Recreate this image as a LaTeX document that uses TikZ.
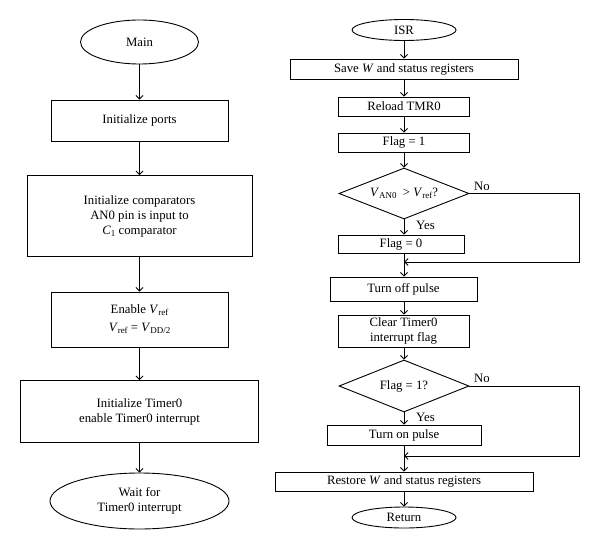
\documentclass[tikz,border=0pt]{standalone}
\usepackage{fontspec}
\setmainfont{Liberation Serif}
\usetikzlibrary{arrows.meta,shapes.geometric}
\newcommand{\lsub}[1]{\raisebox{-0.35ex}{\fontsize{9}{9}\selectfont #1}}
\tikzset{
  box/.style={draw, line width=0.9bp, rectangle, inner sep=0pt, align=center},
  oval/.style={draw, line width=0.9bp, ellipse, inner sep=0pt, align=center},
  dia/.style={draw, line width=0.9bp, diamond, inner sep=0pt, align=center},
  arr/.style={line width=0.9bp, -{Straight Barb[length=3.5bp,width=7bp]}},
  lbl/.style={inner sep=0pt}
}
\begin{document}
\begin{tikzpicture}[x=1bp,y=-1bp,font=\fontsize{12.8}{15}\selectfont]
\useasboundingbox (0,0) rectangle (600,550);
% left column
\node[oval, minimum width=118bp, minimum height=44bp] (main) at (139.5,42) {Main};
\node[box, minimum width=177bp, minimum height=41bp] (ports) at (139.5,120.5) {Initialize ports};
\node[box, minimum width=225bp, minimum height=81bp] (comp) at (139.5,216) {Initialize comparators\\AN0 pin is input to\\\textit{C}\lsub{1} comparator};
\node[box, minimum width=177bp, minimum height=55bp] (enable) at (139.5,319.5) {Enable \textit{V}\lsub{ref}\\[3bp]\textit{V}\lsub{ref} = \textit{V}\lsub{DD/2}};
\node[box, minimum width=238bp, minimum height=62bp] (timer) at (139.5,411.5) {Initialize Timer0\\enable Timer0 interrupt};
\node[oval, minimum width=179bp, minimum height=56bp] (wait) at (139.5,501) {Wait for\\Timer0 interrupt};
\draw[arr] (main) -- (ports);
\draw[arr] (ports) -- (comp);
\draw[arr] (comp) -- (enable);
\draw[arr] (enable) -- (timer);
\draw[arr] (timer) -- (wait);
% right column
\node[oval, minimum width=104bp, minimum height=21bp] (isr) at (404,30) {ISR};
\node[box, minimum width=228bp, minimum height=20bp] (save) at (404,69) {Save \textit{W} and status registers};
\node[box, minimum width=131bp, minimum height=19bp] (reload) at (404,106.5) {Reload TMR0};
\node[box, minimum width=131bp, minimum height=19bp] (flag1) at (404,142.5) {Flag = 1};
\node[dia, minimum width=130bp, minimum height=51bp, aspect=2.55] (d1) at (404,193.5) {};
\node[lbl] (d1t) at (404,193.5) {\textit{V}\lsub{AN0} \ > \textit{V}\lsub{ref}?};
\node[box, minimum width=126bp, minimum height=18bp] (flag0) at (401,244) {Flag = 0};
\node[box, minimum width=147bp, minimum height=24bp] (off) at (403.5,289) {Turn off pulse};
\node[box, minimum width=131bp, minimum height=32bp] (clear) at (403.5,331) {Clear Timer0\\interrupt flag};
\node[dia, minimum width=130bp, minimum height=52bp, aspect=2.5] (d2) at (404,386) {};
\node[lbl] (d2t) at (404,386) {Flag = 1?};
\node[box, minimum width=154bp, minimum height=20bp] (on) at (404,435) {Turn on pulse};
\node[box, minimum width=258bp, minimum height=19bp] (restore) at (404,481.5) {Restore \textit{W} and status registers};
\node[oval, minimum width=104bp, minimum height=21bp] (ret) at (404,517.5) {Return};
\coordinate (j1) at (404,262);
\coordinate (r1) at (579,262);
\coordinate (j2) at (404,456);
\coordinate (r2) at (579,456);
\node[lbl, anchor=south west] (no1) at (474,190.5) {No};
\node[lbl, anchor=west] (yes1) at (416,225) {Yes};
\node[lbl, anchor=south west] (no2) at (474,383) {No};
\node[lbl, anchor=west] (yes2) at (416,417) {Yes};
\draw[arr] (isr) -- (save);
\draw[arr] (save) -- (reload);
\draw[arr] (reload) -- (flag1);
\draw[arr] (flag1) -- (d1.north);
\draw[arr] (d1.south) -- (d1.south |- flag0.north);
\draw[arr] (d1.south |- flag0.south) -- (off.north -| d1.south);
\draw[arr] (d1.east) -| (r1) -- (j1);
\draw[arr] (off.south -| d1.south) -- (clear.north -| d1.south);
\draw[arr] (clear.south -| d2.north) -- (d2.north);
\draw[arr] (d2.south) -- (on.north);
\draw[arr] (on) -- (restore);
\draw[arr] (d2.east) -| (r2) -- (j2);
\draw[arr] (restore) -- (ret);
\end{tikzpicture}
\end{document}
